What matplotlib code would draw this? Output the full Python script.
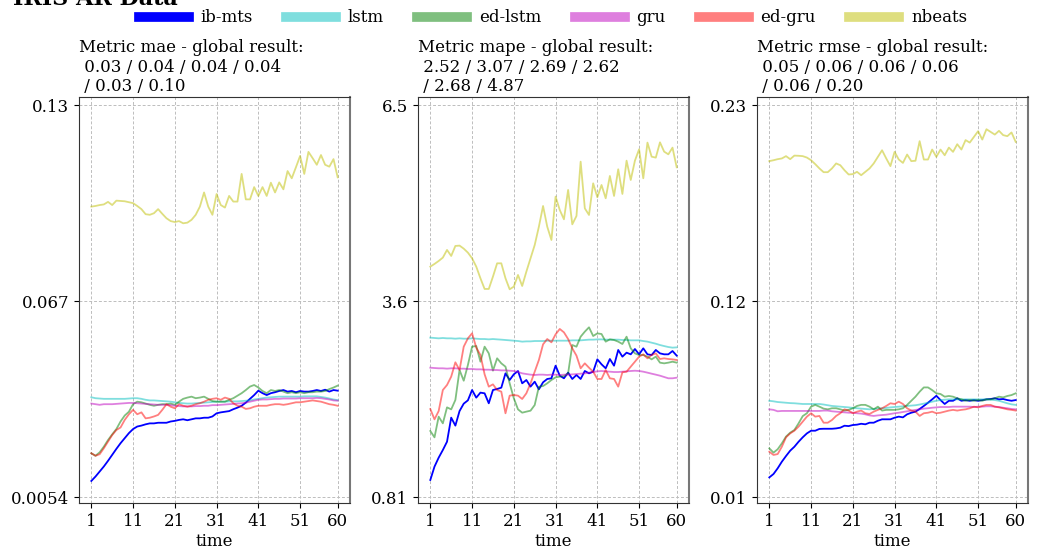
import matplotlib
matplotlib.use("Agg")
import matplotlib.pyplot as plt

plt.rcParams['font.family'] = ['DejaVu Serif']
plt.rcParams['font.size'] = 12

timeSteps = list(range(1, 61))
models = ["ib-mts", "lstm", "ed-lstm", "gru", "ed-gru", "nbeats"]
colors = ["b", "c", "g", "m", "r", "y"]
alphas = [1.0, 0.5, 0.5, 0.5, 0.5, 0.5]
xTicks = [1, 11, 21, 31, 41, 51, 60]

# ---- mae ----
maeIbMts = [0.0105, 0.0119, 0.0135, 0.0151, 0.0169, 0.0188, 0.0207, 0.0225, 0.0241, 0.0257,
            0.0270, 0.0278, 0.0281, 0.0285, 0.0288, 0.0288, 0.0290, 0.0290, 0.0290, 0.0294,
            0.0296, 0.0299, 0.0301, 0.0298, 0.0301, 0.0304, 0.0304, 0.0306, 0.0306, 0.0310,
            0.0320, 0.0323, 0.0325, 0.0327, 0.0333, 0.0338, 0.0344, 0.0354, 0.0366, 0.0378,
            0.0392, 0.0384, 0.0378, 0.0384, 0.0387, 0.0391, 0.0394, 0.0389, 0.0391, 0.0387,
            0.0391, 0.0389, 0.0389, 0.0391, 0.0394, 0.0391, 0.0395, 0.0389, 0.0394, 0.0392]
maeLstm = [0.0371, 0.0368, 0.0367, 0.0366, 0.0366, 0.0366, 0.0366, 0.0366, 0.0366, 0.0367,
           0.0368, 0.0368, 0.0366, 0.0363, 0.0361, 0.0361, 0.0360, 0.0359, 0.0358, 0.0357,
           0.0355, 0.0353, 0.0352, 0.0351, 0.0351, 0.0352, 0.0353, 0.0354, 0.0355, 0.0356,
           0.0357, 0.0357, 0.0357, 0.0358, 0.0358, 0.0358, 0.0359, 0.0360, 0.0361, 0.0364,
           0.0366, 0.0368, 0.0370, 0.0371, 0.0372, 0.0373, 0.0373, 0.0373, 0.0373, 0.0373,
           0.0373, 0.0374, 0.0374, 0.0374, 0.0374, 0.0372, 0.0370, 0.0367, 0.0364, 0.0362]
maeEdLstm = [0.0193, 0.0185, 0.0196, 0.0214, 0.0235, 0.0253, 0.0270, 0.0294, 0.0313, 0.0325,
             0.0349, 0.0357, 0.0355, 0.0351, 0.0347, 0.0344, 0.0347, 0.0349, 0.0349, 0.0351,
             0.0347, 0.0357, 0.0366, 0.0370, 0.0373, 0.0368, 0.0370, 0.0373, 0.0366, 0.0359,
             0.0357, 0.0357, 0.0357, 0.0363, 0.0368, 0.0376, 0.0384, 0.0394, 0.0405, 0.0410,
             0.0402, 0.0391, 0.0384, 0.0394, 0.0391, 0.0394, 0.0389, 0.0384, 0.0387, 0.0384,
             0.0387, 0.0384, 0.0387, 0.0387, 0.0389, 0.0389, 0.0391, 0.0397, 0.0402, 0.0408]
maeGru = [0.0351, 0.0349, 0.0347, 0.0349, 0.0349, 0.0349, 0.0350, 0.0351, 0.0352, 0.0353,
          0.0353, 0.0352, 0.0351, 0.0350, 0.0349, 0.0348, 0.0347, 0.0347, 0.0347, 0.0346,
          0.0344, 0.0343, 0.0342, 0.0342, 0.0342, 0.0343, 0.0343, 0.0344, 0.0344, 0.0346,
          0.0346, 0.0347, 0.0348, 0.0349, 0.0350, 0.0351, 0.0352, 0.0354, 0.0357, 0.0360,
          0.0363, 0.0364, 0.0364, 0.0365, 0.0366, 0.0366, 0.0367, 0.0367, 0.0367, 0.0367,
          0.0368, 0.0368, 0.0368, 0.0368, 0.0369, 0.0368, 0.0366, 0.0364, 0.0361, 0.0360]
maeEdGru = [0.0193, 0.0185, 0.0190, 0.0209, 0.0230, 0.0251, 0.0267, 0.0275, 0.0299, 0.0317,
            0.0331, 0.0317, 0.0323, 0.0304, 0.0306, 0.0310, 0.0315, 0.0331, 0.0349, 0.0341,
            0.0336, 0.0349, 0.0344, 0.0341, 0.0344, 0.0349, 0.0352, 0.0357, 0.0363, 0.0366,
            0.0368, 0.0363, 0.0370, 0.0366, 0.0352, 0.0344, 0.0341, 0.0334, 0.0336, 0.0341,
            0.0344, 0.0344, 0.0344, 0.0347, 0.0349, 0.0349, 0.0347, 0.0349, 0.0352, 0.0355,
            0.0355, 0.0357, 0.0359, 0.0361, 0.0359, 0.0357, 0.0353, 0.0349, 0.0347, 0.0344]
maeNbeats = [0.0977, 0.0979, 0.0982, 0.0984, 0.0992, 0.0982, 0.0996, 0.0995, 0.0994, 0.0991,
             0.0988, 0.0979, 0.0969, 0.0953, 0.0951, 0.0956, 0.0969, 0.0954, 0.0940, 0.0931,
             0.0928, 0.0931, 0.0924, 0.0926, 0.0935, 0.0951, 0.0977, 0.1022, 0.0977, 0.0951,
             0.1017, 0.0982, 0.0974, 0.1011, 0.0993, 0.0993, 0.1081, 0.1000, 0.1000, 0.1039,
             0.1011, 0.1039, 0.1011, 0.1053, 0.1022, 0.1054, 0.1032, 0.1090, 0.1067, 0.1102,
             0.1138, 0.1081, 0.1151, 0.1131, 0.1110, 0.1141, 0.1110, 0.1104, 0.1128, 0.1070]
maeGlobal = ["0.03", "0.04", "0.04", "0.04", "0.03", "0.10"]
maeTicks = [0.0054, 0.0677, 0.13]
maeTickLabels = ["0.0054", "0.067", "0.13"]

# ---- mape ----
mapeIbMts = [1.057, 1.251, 1.381, 1.492, 1.613, 1.962, 1.846, 2.058, 2.165, 2.213,
             2.363, 2.252, 2.325, 2.315, 2.170, 2.363, 2.378, 2.397, 2.605, 2.508,
             2.591, 2.639, 2.460, 2.508, 2.412, 2.484, 2.373, 2.475, 2.523, 2.533,
             2.716, 2.571, 2.533, 2.615, 2.523, 2.581, 2.523, 2.639, 2.605, 2.629,
             2.808, 2.736, 2.678, 2.813, 2.716, 2.944, 2.847, 2.905, 2.881, 2.958,
             2.881, 2.968, 2.881, 2.871, 2.944, 2.895, 2.881, 2.881, 2.929, 2.862]
mapeLstm = [3.123, 3.118, 3.113, 3.118, 3.113, 3.113, 3.108, 3.113, 3.108, 3.108,
            3.113, 3.108, 3.103, 3.103, 3.098, 3.103, 3.098, 3.094, 3.089, 3.084,
            3.079, 3.074, 3.065, 3.069, 3.069, 3.074, 3.074, 3.074, 3.079, 3.079,
            3.079, 3.079, 3.079, 3.079, 3.084, 3.084, 3.084, 3.089, 3.094, 3.094,
            3.098, 3.098, 3.094, 3.094, 3.094, 3.094, 3.089, 3.089, 3.084, 3.084,
            3.084, 3.074, 3.065, 3.050, 3.035, 3.016, 3.001, 2.987, 2.978, 2.982]
mapeEdLstm = [1.768, 1.676, 1.976, 1.879, 2.111, 2.082, 2.218, 2.653, 2.498, 2.726,
              2.992, 3.002, 2.774, 2.992, 2.895, 2.644, 2.823, 2.750, 2.702, 2.460,
              2.242, 2.082, 2.034, 2.049, 2.063, 2.145, 2.411, 2.421, 2.460, 2.508,
              2.547, 2.557, 2.566, 2.605, 3.016, 2.992, 3.137, 3.210, 3.273, 3.147,
              3.185, 3.176, 3.065, 3.098, 3.089, 3.065, 3.031, 3.137, 2.968, 2.895,
              2.871, 2.871, 2.847, 2.808, 2.847, 2.760, 2.750, 2.760, 2.774, 2.760]
mapeGru = [2.687, 2.682, 2.678, 2.678, 2.673, 2.678, 2.678, 2.673, 2.673, 2.668,
           2.668, 2.663, 2.663, 2.658, 2.658, 2.653, 2.653, 2.648, 2.648, 2.643,
           2.639, 2.624, 2.605, 2.595, 2.586, 2.581, 2.586, 2.586, 2.581, 2.586,
           2.586, 2.581, 2.586, 2.586, 2.590, 2.595, 2.600, 2.605, 2.615, 2.624,
           2.634, 2.639, 2.634, 2.629, 2.624, 2.624, 2.629, 2.634, 2.639, 2.643,
           2.639, 2.629, 2.615, 2.600, 2.586, 2.571, 2.552, 2.533, 2.533, 2.542]
mapeEdGru = [2.087, 1.937, 2.058, 2.363, 2.436, 2.557, 2.765, 2.653, 2.992, 3.113,
             3.186, 2.978, 2.871, 2.591, 2.412, 2.445, 2.363, 2.339, 2.025, 2.281,
             2.291, 2.281, 2.233, 2.315, 2.460, 2.629, 2.799, 3.026, 3.103, 3.055,
             3.171, 3.249, 3.200, 3.103, 2.968, 2.862, 2.678, 2.750, 2.687, 2.629,
             2.523, 2.523, 2.653, 2.533, 2.523, 2.412, 2.620, 2.629, 2.702, 2.774,
             2.847, 2.881, 2.823, 2.871, 2.895, 2.813, 2.823, 2.813, 2.808, 2.799]
mapeNbeats = [4.154, 4.193, 4.236, 4.285, 4.396, 4.309, 4.454, 4.459, 4.415, 4.357,
              4.275, 4.154, 3.985, 3.830, 3.830, 4.009, 4.202, 4.202, 3.985, 3.825,
              3.864, 4.033, 3.873, 4.081, 4.275, 4.468, 4.734, 5.034, 4.734, 4.541,
              5.170, 4.976, 4.841, 5.267, 4.768, 4.889, 5.678, 5.000, 4.904, 5.363,
              5.160, 5.339, 5.146, 5.470, 5.180, 5.567, 5.209, 5.692, 5.412, 5.692,
              5.857, 5.436, 5.954, 5.750, 5.736, 5.958, 5.823, 5.784, 5.881, 5.596]
mapeGlobal = ["2.52", "3.07", "2.69", "2.62", "2.68", "4.87"]
mapeTicks = [0.81, 3.655, 6.5]
mapeTickLabels = ["0.81", "3.6", "6.5"]

# ---- rmse ----
rmseIbMts = [0.0210, 0.0229, 0.0261, 0.0298, 0.0330, 0.0360, 0.0382, 0.0410, 0.0435, 0.0457,
             0.0472, 0.0472, 0.0482, 0.0483, 0.0483, 0.0483, 0.0485, 0.0489, 0.0500, 0.0498,
             0.0504, 0.0506, 0.0511, 0.0508, 0.0517, 0.0517, 0.0528, 0.0536, 0.0536, 0.0536,
             0.0545, 0.0551, 0.0547, 0.0564, 0.0573, 0.0579, 0.0594, 0.0611, 0.0629, 0.0648,
             0.0668, 0.0644, 0.0622, 0.0640, 0.0640, 0.0654, 0.0640, 0.0644, 0.0640, 0.0644,
             0.0640, 0.0644, 0.0648, 0.0650, 0.0654, 0.0648, 0.0650, 0.0644, 0.0640, 0.0644]
rmseLstm = [0.0640, 0.0637, 0.0633, 0.0631, 0.0629, 0.0627, 0.0626, 0.0624, 0.0622, 0.0622,
            0.0622, 0.0622, 0.0622, 0.0619, 0.0615, 0.0611, 0.0609, 0.0607, 0.0605, 0.0603,
            0.0600, 0.0598, 0.0596, 0.0594, 0.0592, 0.0594, 0.0596, 0.0598, 0.0600, 0.0603,
            0.0605, 0.0607, 0.0609, 0.0611, 0.0613, 0.0615, 0.0619, 0.0624, 0.0629, 0.0635,
            0.0640, 0.0644, 0.0646, 0.0648, 0.0648, 0.0648, 0.0648, 0.0648, 0.0648, 0.0648,
            0.0648, 0.0648, 0.0648, 0.0646, 0.0644, 0.0640, 0.0633, 0.0626, 0.0620, 0.0617]
rmseEdLstm = [0.0373, 0.0349, 0.0368, 0.0401, 0.0439, 0.0461, 0.0476, 0.0513, 0.0554, 0.0570,
              0.0607, 0.0617, 0.0607, 0.0596, 0.0592, 0.0598, 0.0598, 0.0592, 0.0585, 0.0589,
              0.0598, 0.0611, 0.0617, 0.0617, 0.0607, 0.0592, 0.0607, 0.0585, 0.0589, 0.0589,
              0.0589, 0.0592, 0.0598, 0.0617, 0.0640, 0.0663, 0.0691, 0.0715, 0.0715, 0.0700,
              0.0682, 0.0678, 0.0663, 0.0667, 0.0663, 0.0654, 0.0648, 0.0640, 0.0644, 0.0640,
              0.0644, 0.0640, 0.0648, 0.0648, 0.0654, 0.0663, 0.0659, 0.0667, 0.0672, 0.0682]
rmseGru = [0.0592, 0.0589, 0.0581, 0.0583, 0.0583, 0.0583, 0.0583, 0.0583, 0.0583, 0.0583,
           0.0583, 0.0583, 0.0583, 0.0585, 0.0585, 0.0581, 0.0579, 0.0577, 0.0575, 0.0573,
           0.0573, 0.0570, 0.0568, 0.0564, 0.0558, 0.0555, 0.0558, 0.0560, 0.0562, 0.0566,
           0.0570, 0.0573, 0.0577, 0.0581, 0.0585, 0.0589, 0.0592, 0.0596, 0.0598, 0.0601,
           0.0603, 0.0605, 0.0605, 0.0605, 0.0607, 0.0607, 0.0607, 0.0607, 0.0607, 0.0605,
           0.0607, 0.0607, 0.0609, 0.0609, 0.0607, 0.0605, 0.0601, 0.0598, 0.0594, 0.0592]
rmseEdGru = [0.0354, 0.0336, 0.0341, 0.0382, 0.0435, 0.0457, 0.0472, 0.0495, 0.0523, 0.0551,
             0.0570, 0.0551, 0.0555, 0.0517, 0.0517, 0.0532, 0.0555, 0.0570, 0.0592, 0.0585,
             0.0570, 0.0579, 0.0585, 0.0570, 0.0566, 0.0579, 0.0589, 0.0598, 0.0611, 0.0626,
             0.0622, 0.0635, 0.0622, 0.0598, 0.0585, 0.0579, 0.0555, 0.0570, 0.0573, 0.0579,
             0.0570, 0.0573, 0.0579, 0.0585, 0.0589, 0.0585, 0.0589, 0.0592, 0.0598, 0.0607,
             0.0603, 0.0611, 0.0617, 0.0617, 0.0607, 0.0603, 0.0598, 0.0592, 0.0589, 0.0585]
rmseNbeats = [0.1985, 0.1990, 0.1996, 0.2000, 0.2013, 0.1996, 0.2016, 0.2015, 0.2013, 0.2005,
              0.1990, 0.1968, 0.1944, 0.1923, 0.1923, 0.1944, 0.1972, 0.1962, 0.1934, 0.1910,
              0.1912, 0.1925, 0.1906, 0.1925, 0.1944, 0.1972, 0.2009, 0.2046, 0.2000, 0.1957,
              0.2037, 0.1994, 0.1975, 0.2022, 0.1985, 0.1987, 0.2097, 0.1994, 0.1994, 0.2050,
              0.2009, 0.2050, 0.2018, 0.2061, 0.2037, 0.2080, 0.2050, 0.2103, 0.2089, 0.2121,
              0.2153, 0.2106, 0.2164, 0.2149, 0.2134, 0.2155, 0.2131, 0.2125, 0.2146, 0.2093]
rmseGlobal = ["0.05", "0.06", "0.06", "0.06", "0.06", "0.20"]
rmseTicks = [0.01, 0.12, 0.23]
rmseTickLabels = ["0.01", "0.12", "0.23"]


def plot_metric(ax, name, series, globalResult, ticks, tickLabels):
    for values, label, color, alpha in zip(series, models, colors, alphas):
        ax.plot(timeSteps, values, color=color, alpha=alpha, lw=1.3, label=label)
    title = "Metric %s - global result:\n %s / %s / %s / %s\n / %s / %s" % ((name,) + tuple(globalResult))
    ax.set_title(title, loc="left", fontsize=12, pad=4)
    ax.set_xticks(xTicks)
    ax.set_yticks(ticks)
    ax.set_yticklabels(tickLabels)
    step = (ticks[-1] - ticks[0]) / 392.0
    ax.set_ylim(ticks[0] - 6 * step, ticks[-1] + 8 * step)
    ax.set_xlabel("time", labelpad=2)
    ax.grid(True, linestyle=(0, (3, 2)), color="#bdbdbd", lw=0.7)
    for spine in ax.spines.values():
        spine.set_color("#333333")
    ax.spines["right"].set_color("#777777")
    ax.spines["right"].set_linewidth(1.5)


fig = plt.figure(figsize=(10.41, 5.54), dpi=100)
lefts = [79, 418, 757]
axes = [fig.add_axes([l / 1041, 1 - 503 / 554, 271 / 1041, 406 / 554]) for l in lefts]

plot_metric(axes[0], "mae", [maeIbMts, maeLstm, maeEdLstm, maeGru, maeEdGru, maeNbeats],
            maeGlobal, maeTicks, maeTickLabels)
plot_metric(axes[1], "mape", [mapeIbMts, mapeLstm, mapeEdLstm, mapeGru, mapeEdGru, mapeNbeats],
            mapeGlobal, mapeTicks, mapeTickLabels)
plot_metric(axes[2], "rmse", [rmseIbMts, rmseLstm, rmseEdLstm, rmseGru, rmseEdGru, rmseNbeats],
            rmseGlobal, rmseTicks, rmseTickLabels)

handles, labels = axes[0].get_legend_handles_labels()
leg = fig.legend(handles, labels, loc="center", ncol=6, frameon=False,
                 bbox_to_anchor=(553 / 1041, 1 - 18 / 554), handlelength=3,
                 handletextpad=0.7, columnspacing=2.0, fontsize=12)
for line in leg.get_lines():
    line.set_linewidth(7)

# the figure title sits mostly above the top edge, as in the original
fig.text(13 / 1041, 1 - 5 / 554, "IRIS AR Data", fontsize=16, fontweight="bold",
         ha="left", va="baseline")

fig.savefig("out.png", dpi=100)
